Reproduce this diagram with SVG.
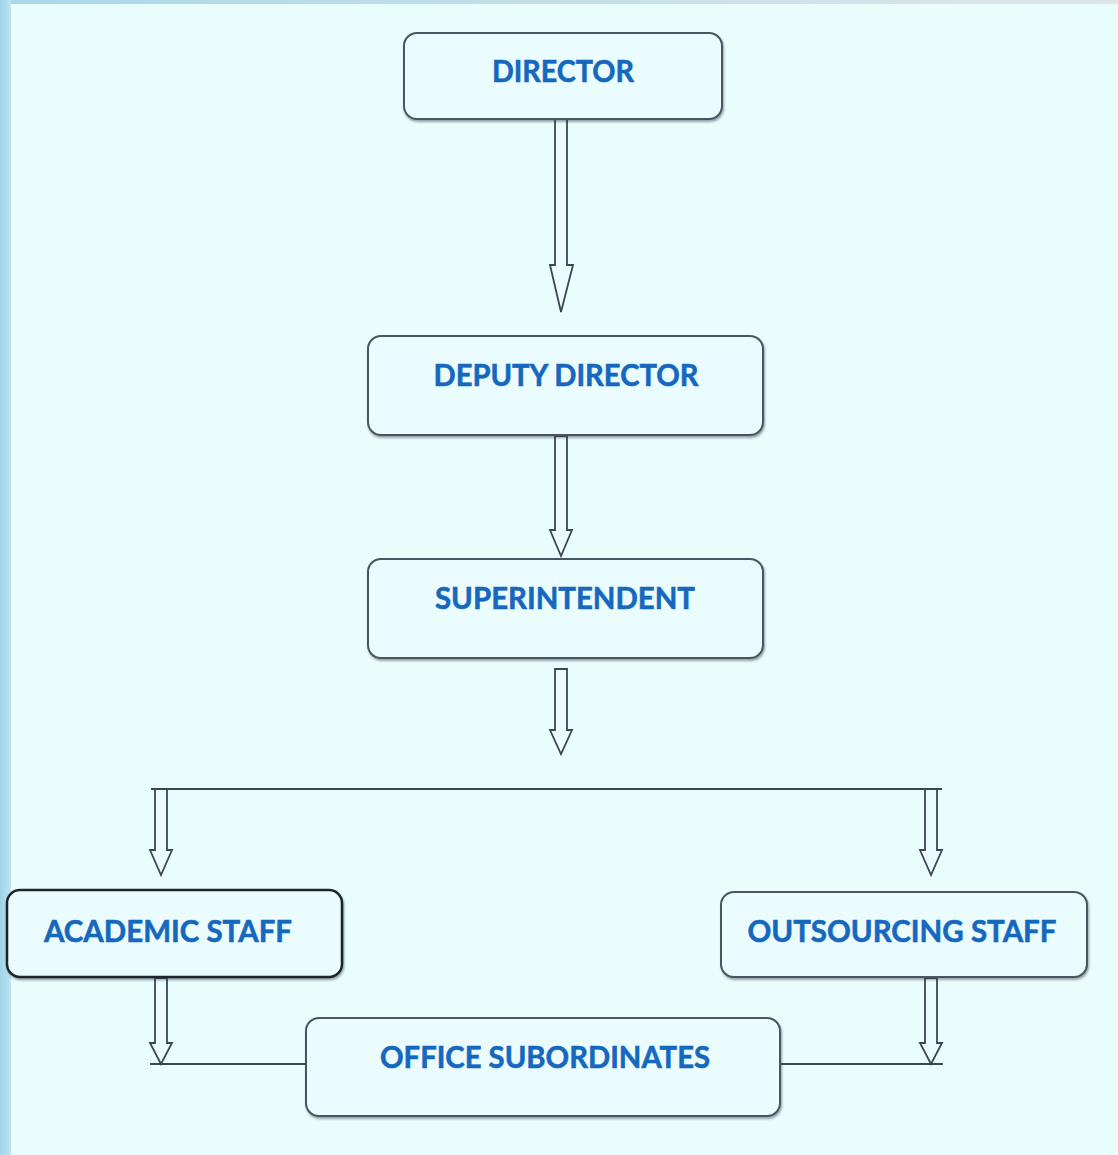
<svg xmlns="http://www.w3.org/2000/svg" width="1118" height="1155" viewBox="0 0 1118 1155">
<defs>
<style>
.box{fill:#eafcfd;stroke:#4a5560;stroke-width:2}
.box2{fill:#eafcfd;stroke:#1f252b;stroke-width:2.5}
.lbl{font-family:Lato,"Open Sans","Liberation Sans",sans-serif;font-weight:700;font-size:31px;fill:#1668bf;stroke:#1668bf;stroke-width:0.6;text-anchor:middle}
.arr{fill:#eafcfd;stroke:#3c4650;stroke-width:1.8;stroke-linejoin:miter}
.ln{stroke:#3c4650;stroke-width:2.2;fill:none}
</style>
<filter id="sh" x="-5%" y="-5%" width="110%" height="120%">
<feDropShadow dx="1" dy="2" stdDeviation="1.2" flood-color="#2a3440" flood-opacity="0.45"/>
</filter>
<linearGradient id="lg" x1="0" y1="0" x2="1" y2="0">
<stop offset="0" stop-color="#9fd3e6"/><stop offset="1" stop-color="#bfe5f0"/>
</linearGradient>
<linearGradient id="tg" x1="0" y1="0" x2="1" y2="0">
<stop offset="0" stop-color="#a8d8ea"/><stop offset="1" stop-color="#dfe6ea"/>
</linearGradient>
</defs>
<rect x="0" y="0" width="1118" height="1155" fill="#e9fdfd"/>
<rect x="0" y="0" width="1118" height="4" fill="url(#tg)"/>
<rect x="0" y="0" width="11" height="1155" fill="url(#lg)"/>

<g id="connectors">
<path class="arr" d="M555,119 V265 H550 L561,312 L573,265 H567 V119 Z"/>
<path class="arr" d="M555,436 V530 H550 L561,556 L572,530 H567 V436 Z"/>
<path class="arr" d="M555,669 V730 H550 L561,754 L572,730 H567 V669 Z"/>
<line class="ln" x1="151" y1="789" x2="942" y2="789"/>
<path class="arr" d="M155,789 V850 H150 L161,875 L172,850 H167 V789 Z"/>
<path class="arr" d="M925,789 V850 H920 L931,875 L942,850 H937 V789 Z"/>
<path class="arr" d="M155,978 V1043 H150 L161,1064 L172,1043 H167 V978 Z"/>
<path class="arr" d="M925,978 V1043 H920 L931,1064 L942,1043 H937 V978 Z"/>
<line class="ln" x1="150" y1="1064" x2="307" y2="1064"/>
<line class="ln" x1="779" y1="1064" x2="943" y2="1064"/>
</g>

<g id="director">
<rect class="box" x="404" y="33" width="318" height="86" rx="13" filter="url(#sh)"/>
<text class="lbl" x="563" y="82" textLength="142" lengthAdjust="spacingAndGlyphs">DIRECTOR</text>
</g>
<g id="deputy-director">
<rect class="box" x="368" y="336" width="395" height="99" rx="13" filter="url(#sh)"/>
<text class="lbl" x="566" y="386" textLength="265" lengthAdjust="spacingAndGlyphs">DEPUTY DIRECTOR</text>
</g>
<g id="superintendent">
<rect class="box" x="368" y="559" width="395" height="99" rx="13" filter="url(#sh)"/>
<text class="lbl" x="565" y="609" textLength="260" lengthAdjust="spacingAndGlyphs">SUPERINTENDENT</text>
</g>
<g id="academic-staff">
<rect class="box2" x="7" y="890" width="335" height="87" rx="13" filter="url(#sh)"/>
<text class="lbl" x="168" y="942" textLength="248" lengthAdjust="spacingAndGlyphs">ACADEMIC STAFF</text>
</g>
<g id="outsourcing-staff">
<rect class="box" x="721" y="892" width="366" height="85" rx="13" filter="url(#sh)"/>
<text class="lbl" x="902" y="942" textLength="309" lengthAdjust="spacingAndGlyphs">OUTSOURCING STAFF</text>
</g>
<g id="office-subordinates">
<rect class="box" x="306" y="1018" width="474" height="98" rx="13" filter="url(#sh)"/>
<text class="lbl" x="545" y="1068" textLength="330" lengthAdjust="spacingAndGlyphs">OFFICE SUBORDINATES</text>
</g>
</svg>
